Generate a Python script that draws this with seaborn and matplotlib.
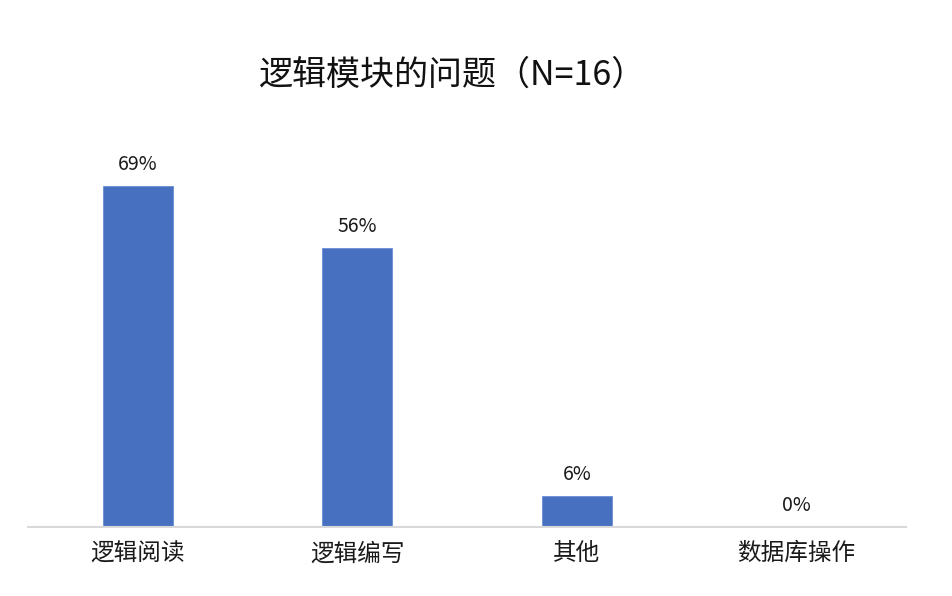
import matplotlib
matplotlib.use("Agg")
import matplotlib.pyplot as plt
import seaborn as sns
import pandas as pd

categories = ["逻辑阅读", "逻辑编写", "其他", "数据库操作"]
shares = [68.75, 56.25, 6.25, 0.0]
labels = ["69%", "56%", "6%", "0%"]
title = "逻辑模块的问题（N=16）"

sns.set_theme(style="white")
plt.rcParams['font.family'] = ['Noto Sans CJK SC', 'DejaVu Sans']

df = pd.DataFrame({"category": categories, "share": shares})

fig = plt.figure(figsize=(9.52, 5.96), dpi=100)
ax = fig.add_axes([28 / 952, 1 - 527 / 596, 878 / 952, 397 / 596])

sns.barplot(data=df, x="category", y="share", color="#4870C0", saturation=1,
            width=0.32, edgecolor="#6a8fd6", linewidth=0.6, ax=ax)

ax.bar_label(ax.containers[0], labels=labels, padding=8, fontsize=14, color="#1a1a1a")

ax.set_xlim(-0.5, 3.5)
ax.set_ylim(0, 80)
ax.set_xlabel("")
ax.set_ylabel("")
ax.set_yticks([])
ax.tick_params(axis="x", length=0, pad=11, labelsize=17, labelcolor="#1a1a1a")
for side in ["top", "right", "left"]:
    ax.spines[side].set_visible(False)
ax.spines["bottom"].set_color("#d9d9d9")
ax.spines["bottom"].set_linewidth(1.5)

fig.text(452 / 952, 1 - 75 / 596, title, ha="center", va="center", fontsize=24.5, color="#111111")

fig.savefig("out.png", dpi=100)
